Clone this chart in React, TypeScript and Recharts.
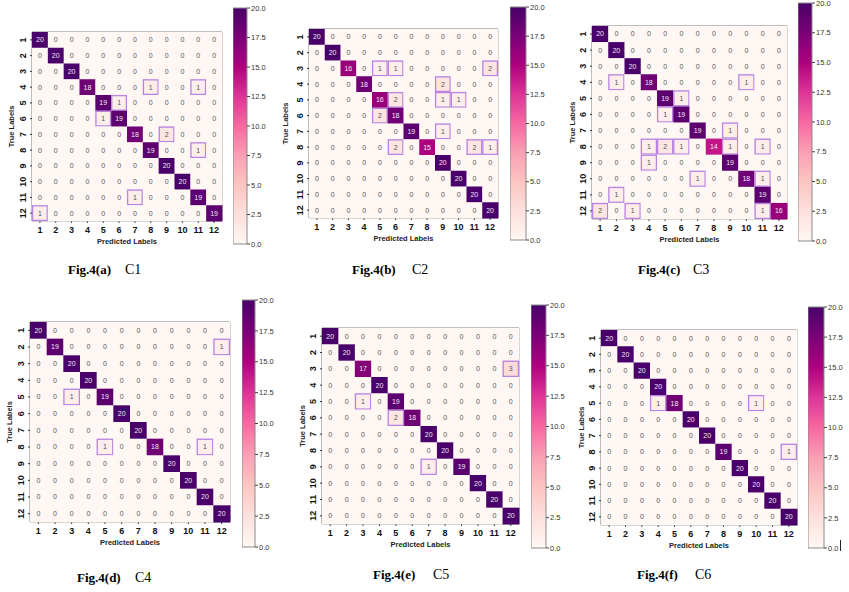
import React from "react";
import { ScatterChart, Scatter, XAxis, YAxis, ReferenceArea, BarChart, Bar } from "recharts";

const labels = [1, 2, 3, 4, 5, 6, 7, 8, 9, 10, 11, 12];
const cbTicks = [0, 2.5, 5, 7.5, 10, 12.5, 15, 17.5, 20];

// confusion matrices, rows = true labels, cols = predicted labels
const c1 = [
  [20, 0, 0, 0, 0, 0, 0, 0, 0, 0, 0, 0],
  [0, 20, 0, 0, 0, 0, 0, 0, 0, 0, 0, 0],
  [0, 0, 20, 0, 0, 0, 0, 0, 0, 0, 0, 0],
  [0, 0, 0, 18, 0, 0, 0, 1, 0, 0, 1, 0],
  [0, 0, 0, 0, 19, 1, 0, 0, 0, 0, 0, 0],
  [0, 0, 0, 0, 1, 19, 0, 0, 0, 0, 0, 0],
  [0, 0, 0, 0, 0, 0, 18, 0, 2, 0, 0, 0],
  [0, 0, 0, 0, 0, 0, 0, 19, 0, 0, 1, 0],
  [0, 0, 0, 0, 0, 0, 0, 0, 20, 0, 0, 0],
  [0, 0, 0, 0, 0, 0, 0, 0, 0, 20, 0, 0],
  [0, 0, 0, 0, 0, 0, 1, 0, 0, 0, 19, 0],
  [1, 0, 0, 0, 0, 0, 0, 0, 0, 0, 0, 19],
];

const c2 = [
  [20, 0, 0, 0, 0, 0, 0, 0, 0, 0, 0, 0],
  [0, 20, 0, 0, 0, 0, 0, 0, 0, 0, 0, 0],
  [0, 0, 16, 0, 1, 1, 0, 0, 0, 0, 0, 2],
  [0, 0, 0, 18, 0, 0, 0, 0, 2, 0, 0, 0],
  [0, 0, 0, 0, 16, 2, 0, 0, 1, 1, 0, 0],
  [0, 0, 0, 0, 2, 18, 0, 0, 0, 0, 0, 0],
  [0, 0, 0, 0, 0, 0, 19, 0, 1, 0, 0, 0],
  [0, 0, 0, 0, 0, 2, 0, 15, 0, 0, 2, 1],
  [0, 0, 0, 0, 0, 0, 0, 0, 20, 0, 0, 0],
  [0, 0, 0, 0, 0, 0, 0, 0, 0, 20, 0, 0],
  [0, 0, 0, 0, 0, 0, 0, 0, 0, 0, 20, 0],
  [0, 0, 0, 0, 0, 0, 0, 0, 0, 0, 0, 20],
];

const c3 = [
  [20, 0, 0, 0, 0, 0, 0, 0, 0, 0, 0, 0],
  [0, 20, 0, 0, 0, 0, 0, 0, 0, 0, 0, 0],
  [0, 0, 20, 0, 0, 0, 0, 0, 0, 0, 0, 0],
  [0, 1, 0, 18, 0, 0, 0, 0, 0, 1, 0, 0],
  [0, 0, 0, 0, 19, 1, 0, 0, 0, 0, 0, 0],
  [0, 0, 0, 0, 1, 19, 0, 0, 0, 0, 0, 0],
  [0, 0, 0, 0, 0, 0, 19, 0, 1, 0, 0, 0],
  [0, 0, 0, 1, 2, 1, 0, 14, 1, 0, 1, 0],
  [0, 0, 0, 1, 0, 0, 0, 0, 19, 0, 0, 0],
  [0, 0, 0, 0, 0, 0, 1, 0, 0, 18, 1, 0],
  [0, 1, 0, 0, 0, 0, 0, 0, 0, 0, 19, 0],
  [2, 0, 1, 0, 0, 0, 0, 0, 0, 0, 1, 16],
];

const c4 = [
  [20, 0, 0, 0, 0, 0, 0, 0, 0, 0, 0, 0],
  [0, 19, 0, 0, 0, 0, 0, 0, 0, 0, 0, 1],
  [0, 0, 20, 0, 0, 0, 0, 0, 0, 0, 0, 0],
  [0, 0, 0, 20, 0, 0, 0, 0, 0, 0, 0, 0],
  [0, 0, 1, 0, 19, 0, 0, 0, 0, 0, 0, 0],
  [0, 0, 0, 0, 0, 20, 0, 0, 0, 0, 0, 0],
  [0, 0, 0, 0, 0, 0, 20, 0, 0, 0, 0, 0],
  [0, 0, 0, 0, 1, 0, 0, 18, 0, 0, 1, 0],
  [0, 0, 0, 0, 0, 0, 0, 0, 20, 0, 0, 0],
  [0, 0, 0, 0, 0, 0, 0, 0, 0, 20, 0, 0],
  [0, 0, 0, 0, 0, 0, 0, 0, 0, 0, 20, 0],
  [0, 0, 0, 0, 0, 0, 0, 0, 0, 0, 0, 20],
];

const c5 = [
  [20, 0, 0, 0, 0, 0, 0, 0, 0, 0, 0, 0],
  [0, 20, 0, 0, 0, 0, 0, 0, 0, 0, 0, 0],
  [0, 0, 17, 0, 0, 0, 0, 0, 0, 0, 0, 3],
  [0, 0, 0, 20, 0, 0, 0, 0, 0, 0, 0, 0],
  [0, 0, 1, 0, 19, 0, 0, 0, 0, 0, 0, 0],
  [0, 0, 0, 0, 2, 18, 0, 0, 0, 0, 0, 0],
  [0, 0, 0, 0, 0, 0, 20, 0, 0, 0, 0, 0],
  [0, 0, 0, 0, 0, 0, 0, 20, 0, 0, 0, 0],
  [0, 0, 0, 0, 0, 0, 1, 0, 19, 0, 0, 0],
  [0, 0, 0, 0, 0, 0, 0, 0, 0, 20, 0, 0],
  [0, 0, 0, 0, 0, 0, 0, 0, 0, 0, 20, 0],
  [0, 0, 0, 0, 0, 0, 0, 0, 0, 0, 0, 20],
];

const c6 = [
  [20, 0, 0, 0, 0, 0, 0, 0, 0, 0, 0, 0],
  [0, 20, 0, 0, 0, 0, 0, 0, 0, 0, 0, 0],
  [0, 0, 20, 0, 0, 0, 0, 0, 0, 0, 0, 0],
  [0, 0, 0, 20, 0, 0, 0, 0, 0, 0, 0, 0],
  [0, 0, 0, 1, 18, 0, 0, 0, 0, 1, 0, 0],
  [0, 0, 0, 0, 0, 20, 0, 0, 0, 0, 0, 0],
  [0, 0, 0, 0, 0, 0, 20, 0, 0, 0, 0, 0],
  [0, 0, 0, 0, 0, 0, 0, 19, 0, 0, 0, 1],
  [0, 0, 0, 0, 0, 0, 0, 0, 20, 0, 0, 0],
  [0, 0, 0, 0, 0, 0, 0, 0, 0, 20, 0, 0],
  [0, 0, 0, 0, 0, 0, 0, 0, 0, 0, 20, 0],
  [0, 0, 0, 0, 0, 0, 0, 0, 0, 0, 0, 20],
];

const FONT = "'Liberation Sans', Arial, sans-serif";
const SERIF = "'Liberation Serif', 'Times New Roman', serif";
const VMAX = 20;

// matplotlib RdPu
const rdpuStops = ["#fff7f3", "#fde0dd", "#fcc5c0", "#fa9fb5", "#f768a1", "#dd3497", "#ae017e", "#7a0177", "#49006a"];

const hex = (h: string) => [1, 3, 5].map((i) => parseInt(h.slice(i, i + 2), 16));
const rdpu = (t: number) => {
  const tt = Math.max(0, Math.min(1, t));
  const p = tt * (rdpuStops.length - 1);
  const i = Math.min(Math.floor(p), rdpuStops.length - 2);
  const f = p - i;
  const a = hex(rdpuStops[i]);
  const b = hex(rdpuStops[i + 1]);
  const c = a.map((v, k) => Math.round(v + (b[k] - v) * f));
  return `rgb(${c[0]},${c[1]},${c[2]})`;
};

const toCells = (m: number[][]) =>
  m.flatMap((row, r) => row.map((v, c) => ({ x: labels[c], y: labels[r], v })));

const panels = [
  { id: "a", m: c1, box: { x: 32, y: 32, w: 190, h: 189 }, cb: { x: 233, y: 8, w: 14, h: 236 }, cbW: 30, yDx: -4, fig: "Fig.4(a)", name: "C1", figX: 68, nameX: 125, capY: 274 },
  { id: "b", m: c2, box: { x: 309, y: 29, w: 189, h: 189 }, cb: { x: 510, y: 7, w: 16, h: 233 }, cbW: 30, yDx: -7, fig: "Fig.4(b)", name: "C2", figX: 352, nameX: 412, capY: 274 },
  { id: "c", m: c3, box: { x: 592, y: 26, w: 195, h: 193 }, cb: { x: 798, y: 3, w: 14, h: 238 }, cbW: 30, yDx: -3, fig: "Fig.4(c)", name: "C3", figX: 638, nameX: 693, capY: 274 },
  { id: "d", m: c4, box: { x: 30, y: 322, w: 200, h: 200 }, cb: { x: 242, y: 300, w: 13, h: 247 }, cbW: 30, yDx: -4, fig: "Fig.4(d)", name: "C4", figX: 77, nameX: 135, capY: 582 },
  { id: "e", m: c5, box: { x: 322, y: 328, w: 197, h: 196 }, cb: { x: 531, y: 305, w: 15, h: 243 }, cbW: 30, yDx: -3, fig: "Fig.4(e)", name: "C5", figX: 373, nameX: 433, capY: 579 },
  { id: "f", m: c6, box: { x: 601, y: 330, w: 196, h: 195 }, cb: { x: 808, y: 307, w: 16, h: 241 }, cbW: 30, yDx: -3, fig: "Fig.4(f)", name: "C6", figX: 637, nameX: 695, capY: 579 },
];

const makeCell = (cw: number, ch: number) => (p: any) => {
  const { cx, cy, payload } = p;
  const v = payload.v;
  const off = payload.x !== payload.y && v > 0;
  return (
    <g>
      <rect x={cx - cw / 2} y={cy - ch / 2} width={cw + 0.4} height={ch + 0.4} fill={rdpu(v / VMAX)} />
      {off && (
        <rect x={cx - cw / 2 + 0.6} y={cy - ch / 2 + 0.6} width={cw - 1.2} height={ch - 1.2} fill="none" stroke="#b883e2" strokeWidth={1.3} />
      )}
      <text x={cx} y={cy} dy="0.35em" textAnchor="middle" fontSize={7} fontFamily={FONT} fill={v > 10 ? "#f3e9f3" : "#555"}>
        {v}
      </text>
    </g>
  );
};

const YTick = (p: any) => {
  const { x, y, payload } = p;
  const bx = x - 2;
  return (
    <text x={bx} y={y} transform={`rotate(-90 ${bx} ${y})`} textAnchor="middle" fontSize={9} fontWeight="bold" fontFamily={FONT} fill="#111">
      {payload.value}
    </text>
  );
};

const Matrix = ({ pn }: { pn: (typeof panels)[number] }) => {
  const { box } = pn;
  const yw = 34;
  const top = 4;
  const right = 4;
  const xh = 40;
  const cells = toCells(pn.m);
  return (
    <div style={{ position: "absolute", left: box.x - yw, top: box.y - top }}>
      <ScatterChart width={yw + box.w + right} height={top + box.h + xh} margin={{ top, right, bottom: 0, left: 0 }}>
        <XAxis
          type="number"
          dataKey="x"
          domain={[0.5, 12.5]}
          ticks={labels}
          interval={0}
          height={xh}
          axisLine={false}
          tickSize={2}
          tickMargin={4}
          tickLine={{ stroke: "#333" }}
          tick={{ fontSize: 9, fontWeight: "bold", fill: "#111", fontFamily: FONT }}
          label={{ value: "Predicted Labels", position: "center", fontSize: 7.5, fontWeight: "bold", fill: "#222", fontFamily: FONT }}
        />
        <YAxis
          type="number"
          dataKey="y"
          domain={[0.5, 12.5]}
          ticks={labels}
          interval={0}
          reversed
          width={yw}
          axisLine={false}
          tickSize={2}
          tickMargin={2}
          tickLine={{ stroke: "#333" }}
          tick={(p: any) => <YTick {...p} />}
          label={{ value: "True Labels", angle: -90, position: "center", dx: pn.yDx, fontSize: 7.5, fontWeight: "bold", fill: "#222", fontFamily: FONT }}
        />
        <Scatter data={cells} shape={makeCell(box.w / 12, box.h / 12)} isAnimationActive={false} />
        <ReferenceArea x1={0.5} x2={12.5} y1={0.5} y2={12.5} fill="none" stroke="#7a7a7a" strokeWidth={1} ifOverflow="visible" />
      </ScatterChart>
    </div>
  );
};

const ColorBar = ({ pn }: { pn: (typeof panels)[number] }) => {
  const { cb } = pn;
  const pad = 5;
  const gid = `rdpu-${pn.id}`;
  return (
    <div style={{ position: "absolute", left: cb.x, top: cb.y - pad }}>
      <BarChart width={cb.w + pn.cbW} height={cb.h + pad * 2} data={[{ name: "cb", v: VMAX }]} margin={{ top: pad, bottom: pad, left: 0, right: 0 }} barCategoryGap={0}>
        <defs>
          <linearGradient id={gid} x1="0" y1="1" x2="0" y2="0">
            {rdpuStops.map((c, i) => (
              <stop key={i} offset={i / (rdpuStops.length - 1)} stopColor={c} />
            ))}
          </linearGradient>
        </defs>
        <XAxis dataKey="name" hide />
        <YAxis
          orientation="right"
          type="number"
          domain={[0, VMAX]}
          ticks={cbTicks}
          interval={0}
          width={pn.cbW}
          axisLine={false}
          tickSize={3}
          tickMargin={1}
          tickLine={{ stroke: "#444" }}
          tickFormatter={(v: number) => v.toFixed(1)}
          tick={{ fontSize: 7.5, fill: "#333", fontFamily: FONT, textAnchor: "start" }}
        />
        <Bar dataKey="v" fill={`url(#${gid})`} stroke="#8a8a8a" strokeWidth={1} isAnimationActive={false} />
      </BarChart>
    </div>
  );
};

export default function App() {
  return (
    <div style={{ position: "absolute", left: 0, top: 0, width: 849, height: 592, background: "#fff", overflow: "hidden" }}>
      {panels.map((pn) => (
        <React.Fragment key={pn.id}>
          <Matrix pn={pn} />
          <ColorBar pn={pn} />
        </React.Fragment>
      ))}
      <svg width={849} height={592} style={{ position: "absolute", left: 0, top: 0, pointerEvents: "none" }}>
        {panels.map((pn) => (
          <g key={pn.id}>
            <text x={pn.figX} y={pn.capY} fontFamily={SERIF} fontWeight="bold" fontSize={13} fill="#000">
              {pn.fig}
            </text>
            <text x={pn.nameX} y={pn.capY} fontFamily={SERIF} fontSize={14} fill="#000">
              {pn.name}
            </text>
          </g>
        ))}
        <line x1={840.5} y1={540} x2={840.5} y2={551} stroke="#222" strokeWidth={1} />
      </svg>
    </div>
  );
}
